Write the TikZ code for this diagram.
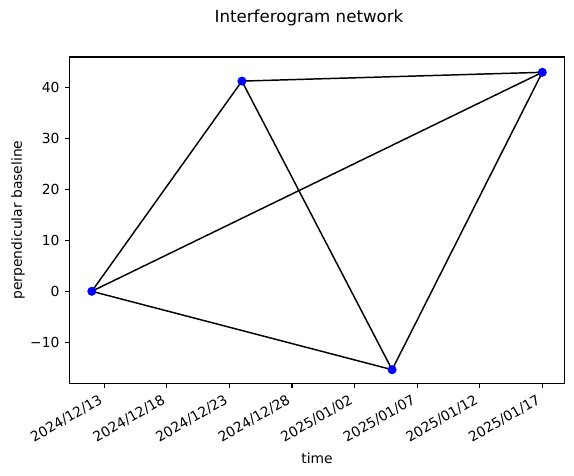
\documentclass[tikz,border=0pt]{standalone}
\usepackage{fontspec}
\setmainfont{DejaVu Sans}
\usetikzlibrary{positioning}

\begin{document}
\begin{tikzpicture}[x=0.75pt,y=-0.75pt,
    every node/.style={font=\fontsize{10.4}{12}\selectfont},
    spine/.style={line width=0.83pt},
    edge/.style={line width=1.1pt,black},
    ifg/.style={circle,fill=blue,inner sep=0pt,minimum size=6.8pt}]
    \useasboundingbox (0,0) rectangle (574,475);

    % acquisitions (pixel positions of the data points)
    \coordinate (d1) at (91.8,291.3);
    \coordinate (d2) at (241.9,81.1);
    \coordinate (d3) at (392.1,369.7);
    \coordinate (d4) at (542.3,72.3);

    % interferogram pairs
    \foreach \a/\b in {d1/d2,d1/d3,d1/d4,d2/d3,d2/d4,d3/d4} {
      \draw[edge] (\a) -- (\b);
    }
    \foreach \n in {d1,d2,d3,d4} {
      \node[ifg] (m-\n) at (\n) {};
    }

    % axes frame
    \draw[spine] (69.5,57) rectangle (564.5,383.5);

    % y ticks
    \foreach \v/\lab in {-10/{\char"2212 10},0/0,10/10,20/20,30/30,40/40} {
      \draw[spine] (69.5,291.3-5.09*\v) -- ++(-4.9,0);
      \node[anchor=east,inner sep=0pt] at (59.7,291.3-5.09*\v) {\lab};
    }

    % x ticks, rotated date labels
    \foreach \k/\lab in {0/2024\slash 12\slash 13,1/2024\slash 12\slash 18,2/2024\slash 12\slash 23,
                          3/2024\slash 12\slash 28,4/2025\slash 01\slash 02,5/2025\slash 01\slash 07,
                          6/2025\slash 01\slash 12,7/2025\slash 01\slash 17} {
      \draw[spine] (104.3+62.57*\k,383.5) -- ++(0,4.9);
      \node[anchor=north east,rotate=30,inner sep=0pt] at (104.3+62.57*\k-6,393.3) {\lab};
    }

    \node (xlab) at (317,458) {time};
    \node[rotate=90] (ylab) at (18,220) {perpendicular baseline};
    \node[font=\fontsize{12.5}{14}\selectfont] (title) at (309,18) {Interferogram network};
\end{tikzpicture}
\end{document}
